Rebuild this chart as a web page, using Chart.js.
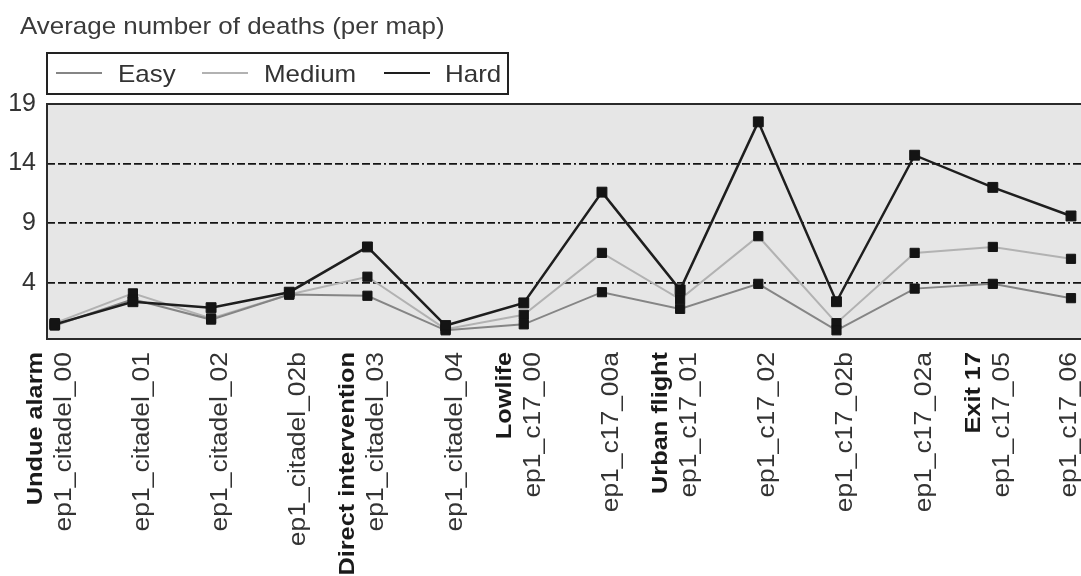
<!DOCTYPE html>
<html>
<head>
<meta charset="utf-8">
<script src="https://cdn.jsdelivr.net/npm/chart.js@4.4.1/dist/chart.umd.min.js"></script>
<style>
  body { margin: 0; background: #fff; }
  #wrap { width: 1081px; height: 576px; }
</style>
</head>
<body>
<div id="wrap"><canvas id="grafica" width="1081" height="576"></canvas></div>
<script>
const mapas = ["ep1_citadel_00", "ep1_citadel_01", "ep1_citadel_02", "ep1_citadel_02b", "ep1_citadel_03", "ep1_citadel_04",
  "ep1_c17_00", "ep1_c17_00a", "ep1_c17_01", "ep1_c17_02", "ep1_c17_02b", "ep1_c17_02a", "ep1_c17_05", "ep1_c17_06"];
const capitulos = ["Undue alarm", "", "", "", "Direct intervention", "", "Lowlife", "", "Urban flight", "", "", "", "Exit 17", ""];

const easy = [0.4, 2.6, 0.9, 3.0, 2.9, 0.0, 0.5, 3.2, 1.8, 3.9, 0.0, 3.5, 3.9, 2.7];
const medium = [0.6, 3.1, 1.0, 3.0, 4.5, 0.1, 1.3, 6.5, 2.6, 7.9, 0.6, 6.5, 7.0, 6.0];
const hard = [0.5, 2.4, 1.9, 3.2, 7.0, 0.4, 2.3, 11.6, 3.4, 17.5, 2.4, 14.7, 12.0, 9.6];

const series = ["Easy", "Medium", "Hard"];
const yTicks = [4, 9, 14, 19];
const titulo = "Average number of deaths (per map)";

const fuente = "'Liberation Sans', Arial, Helvetica, sans-serif";
const colores = { Easy: "#858585", Medium: "#b2b2b2", Hard: "#1e1e1e" };

const puntos = (arr) => arr.map((v, i) => ({ x: i, y: v }));

const dibujos = {
  id: "dibujos",
  beforeDraw(chart) {
    const { ctx, chartArea: a } = chart;
    ctx.save();
    ctx.fillStyle = "#fff";
    ctx.fillRect(0, 0, chart.width, chart.height);
    ctx.fillStyle = "#e6e6e6";
    ctx.fillRect(a.left, a.top, chart.width - a.left, a.bottom - a.top);
    ctx.restore();
  },
  afterDraw(chart) {
    const { ctx, chartArea: a } = chart;
    const x = chart.scales.x;
    ctx.save();

    // borde del area (sin lado derecho, queda fuera de la imagen)
    ctx.strokeStyle = "#2a2a2a";
    ctx.lineWidth = 2;
    ctx.beginPath();
    ctx.moveTo(chart.width, a.top);
    ctx.lineTo(a.left, a.top);
    ctx.lineTo(a.left, a.bottom);
    ctx.lineTo(chart.width, a.bottom);
    ctx.stroke();

    // titulo
    ctx.fillStyle = "#3a3a3a";
    ctx.font = "24px " + fuente;
    ctx.textBaseline = "alphabetic";
    ctx.save();
    ctx.translate(20, 34);
    ctx.scale(1.08, 1);
    ctx.fillText(titulo, 0, 0);
    ctx.restore();

    // leyenda con caja
    ctx.strokeStyle = "#222";
    ctx.lineWidth = 2;
    ctx.strokeRect(47, 53, 461, 41);
    const lineaX = [56, 202, 384];
    const textoX = [118, 264, 445];
    series.forEach((s, i) => {
      ctx.strokeStyle = colores[s];
      ctx.lineWidth = 2;
      ctx.beginPath();
      ctx.moveTo(lineaX[i], 73);
      ctx.lineTo(lineaX[i] + 46, 73);
      ctx.stroke();
      ctx.fillStyle = "#333";
      ctx.font = "24px " + fuente;
      ctx.save();
      ctx.translate(textoX[i], 82);
      ctx.scale(1.08, 1);
      ctx.fillText(s, 0, 0);
      ctx.restore();
    });

    // etiquetas del eje x, giradas (la ultima se mantiene dentro de la imagen)
    mapas.forEach((m, i) => {
      const px = x.getPixelForValue(i);
      const base = Math.min(16, chart.width - 5 - px);
      ctx.save();
      ctx.translate(px, 352);
      ctx.rotate(-Math.PI / 2);
      ctx.scale(1.15, 1);
      ctx.textAlign = "right";
      ctx.fillStyle = "#333";
      ctx.font = "23px " + fuente;
      ctx.fillText(m, 0, base);
      if (capitulos[i]) {
        ctx.fillStyle = "#1a1a1a";
        ctx.font = "bold 22px " + fuente;
        ctx.fillText(capitulos[i], 0, base - 29);
      }
      ctx.restore();
    });
    ctx.restore();
  }
};

const dataset = (nombre, valores, ancho, radio, orden) => ({
  label: nombre,
  data: puntos(valores),
  borderColor: colores[nombre],
  borderWidth: ancho,
  pointStyle: "rect",
  pointRadius: radio,
  pointBackgroundColor: "#141414",
  pointBorderColor: "#141414",
  pointBorderWidth: 1,
  tension: 0,
  order: orden
});

new Chart(document.querySelector("#grafica"), {
  type: "line",
  data: {
    datasets: [
      dataset("Hard", hard, 2.5, 7, 0),
      dataset("Medium", medium, 2, 6.5, 2),
      dataset("Easy", easy, 2, 6.5, 1)
    ]
  },
  options: {
    responsive: false,
    animation: false,
    devicePixelRatio: 1,
    layout: { autoPadding: false, padding: { top: 104, left: 0, right: 0, bottom: 0 } },
    scales: {
      x: {
        type: "linear",
        min: -0.099,
        max: 13.128,
        ticks: { display: false },
        grid: { display: false },
        border: { display: false },
        afterFit(scale) { scale.height = 237; }
      },
      y: {
        min: -0.73,
        max: 19,
        afterBuildTicks(scale) { scale.ticks = yTicks.map(v => ({ value: v })); },
        afterFit(scale) { scale.width = 47; },
        ticks: {
          padding: 11,
          color: "#333",
          font: { family: fuente, size: 25 }
        },
        grid: {
          drawTicks: false,
          color: (c) => (c.tick && c.tick.value === 19 ? "rgba(0,0,0,0)" : "#141414"),
          lineWidth: 1.8
        },
        border: { display: false, dash: [8, 3, 8, 3, 8, 3, 2, 3] }
      }
    },
    plugins: {
      legend: { display: false },
      tooltip: { enabled: false }
    }
  },
  plugins: [dibujos]
});
</script>
</body>
</html>
